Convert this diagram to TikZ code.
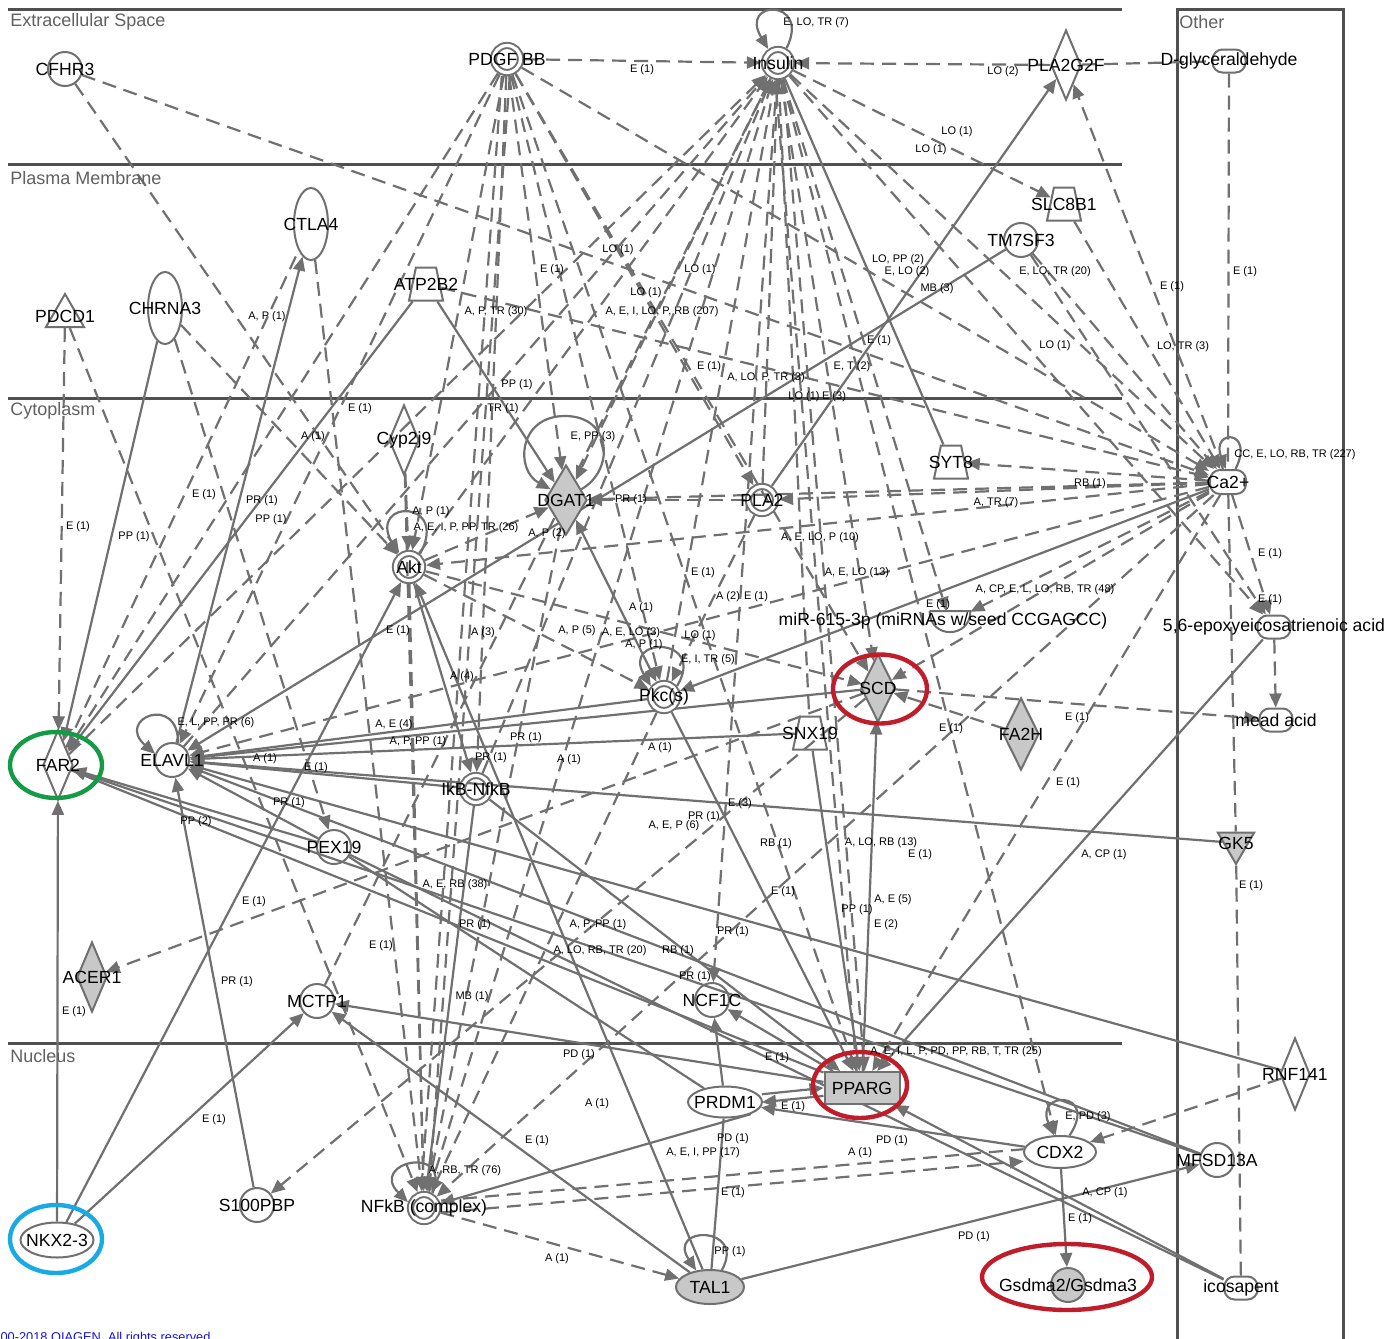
\documentclass[tikz,border=0pt]{standalone}
\usepackage{fontspec}
\setmainfont{Liberation Sans}
\usetikzlibrary{shapes.geometric,arrows.meta}
\definecolor{gcol}{RGB}{112,112,112}
\definecolor{lcol}{RGB}{80,80,80}
\definecolor{fillg}{RGB}{200,200,200}
\definecolor{hred}{RGB}{192,28,42}
\definecolor{hgreen}{RGB}{20,155,70}
\definecolor{hcyan}{RGB}{25,170,230}
\definecolor{cblue}{RGB}{20,20,220}
\pgfdeclarelayer{bg}
\pgfsetlayers{bg,main}
\begin{document}
\begin{tikzpicture}[x=0.5pt,y=-0.5pt,
  base/.style={draw=gcol, line width=1pt, inner sep=0pt, outer sep=0.5pt},
  circ/.style={base, circle, minimum size=17pt},
  dcirc/.style={base, circle, double=white, double distance=1.6pt, minimum size=13.5pt, outer sep=1.8pt},
  ell/.style={base, ellipse},
  dia/.style={base, diamond, minimum width=15pt, minimum height=35pt},
  fdia/.style={dia, fill=fillg},
  trap/.style={base, trapezium, trapezium left angle=72, trapezium right angle=72, trapezium stretches=true, minimum width=17pt, minimum height=16.5pt},
  chem/.style={base, rectangle, rounded corners=5pt, minimum width=16.5pt, minimum height=11.5pt},
  tri/.style={base, regular polygon, regular polygon sides=3, minimum size=22pt},
  nl/.style={font=\fontsize{8.8}{10}\selectfont, text=black, inner sep=0pt},
  el/.style={font=\fontsize{5.5}{6}\selectfont, text=black, inner sep=0pt},
  ll/.style={font=\fontsize{9}{10}\selectfont, text=lcol!90!white, inner sep=0pt, anchor=west},
  lay/.style={draw=lcol, line width=1.5pt},
  se/.style={draw=gcol, line width=1.1pt},
  de/.style={se, dash pattern=on 7pt off 4pt},
  ar/.style={-{Triangle[length=7pt,width=6pt]}},
  ba/.style={{Triangle[length=7pt,width=6pt]}-{Triangle[length=7pt,width=6pt]}},
  hl/.style={ellipse, line width=2.2pt, inner sep=0pt}
]
\path[use as bounding box] (0,0) rectangle (1399,1339);

% ---------- compartment labels
\node[ll] (lext) at (10,22) {Extracellular Space};
\node[ll] (lpm) at (10,178) {Plasma Membrane};
\node[ll] (lcyt) at (10,411) {Cytoplasm};
\node[ll] (lnuc) at (10,1056) {Nucleus};
\node[ll] (loth) at (1179,22) {Other};

% ---------- molecules
\node[circ, label={[nl]center:CFHR3}] (cfhr3) at (65,69) {};
\node[dcirc, label={[nl]center:PDGF BB}] (pdgf) at (507,59) {};
\node[dcirc, label={[nl]center:Insulin}] (ins) at (778,63) {};
\node[dia, label={[nl]center:PLA2G2F}] (pla2g2f) at (1066,65) {};
\node[chem, label={[nl]center:D-glyceraldehyde}] (dgly) at (1229,61) {};
\node[ell, minimum width=17pt, minimum height=36pt, label={[nl]center:CTLA4}] (ctla4) at (311,224) {};
\node[tri, label={[nl]center:PDCD1}] (pdcd1) at (65,316) {};
\node[ell, minimum width=17pt, minimum height=36pt, label={[nl]center:CHRNA3}] (chrna3) at (165,308) {};
\node[trap, label={[nl]center:ATP2B2}] (atp) at (426,284) {\phantom{x}};
\node[trap, label={[nl]center:SLC8B1}] (slc) at (1064,204) {\phantom{x}};
\node[circ, label={[nl]center:TM7SF3}] (tm7) at (1021,240) {};
\node[dia, label={[nl]center:Cyp2j9}] (cyp) at (404,440) {};
\node[fdia, minimum width=21pt, label={[nl]center:DGAT1}] (dgat) at (566,500) {};
\node[dcirc, label={[nl]center:Akt}] (akt) at (409,567) {};
\node[dcirc, label={[nl]center:PLA2}] (pla2) at (762,500) {};
\node[trap, label={[nl]center:SYT8}] (syt8) at (951,462) {\phantom{x}};
\node[chem, minimum width=18pt, minimum height=12pt, label={[nl]center:Ca2+}] (ca) at (1228,482) {};
\node[inner sep=0pt, minimum width=20pt, minimum height=10.5pt] (mir) at (950,622) {};
\draw[base] (mir.north west) -- (mir.north east) .. controls +(0,28) and +(0,28) .. (mir.north west);
\node[nl] (mirl) at (943,621) {miR-615-3p (miRNAs w/seed CCGAGCC)};
\node[chem, label={[nl]center:{5,6-epoxyeicosatrienoic acid}}] (epoxy) at (1274,627) {};
\node[chem, label={[nl]center:mead acid}] (mead) at (1276,720) {};
\node[fdia, minimum width=17pt, minimum height=34pt, label={[nl]center:SCD}] (scd) at (878,688) {};
\node[fdia, minimum width=18pt, minimum height=36pt, label={[nl]center:FA2H}] (fa2h) at (1021,734) {};
\node[dcirc, label={[nl]center:Pkc(s)}] (pkc) at (664,697) {};
\node[trap, label={[nl]center:SNX19}] (snx) at (810,733) {\phantom{x}};
\node[dia, label={[nl]center:FAR2}] (far2) at (58,765) {};
\node[circ, label={[nl]center:ELAVL1}] (elavl) at (172,760) {};
\node[dcirc, label={[nl]center:IkB-NfkB}] (ikb) at (476,789) {};
\node[circ, label={[nl]center:PEX19}] (pex) at (334,847) {};
\node[tri, fill=fillg, shape border rotate=180, minimum size=21pt, label={[nl]center:GK5}] (gk5) at (1236,843) {};
\node[fdia, label={[nl]center:ACER1}] (acer) at (92,977) {};
\node[circ, label={[nl]center:MCTP1}] (mctp) at (317,1001) {};
\node[circ, label={[nl]center:NCF1C}] (ncf) at (712,1000) {};
\node[dia, minimum height=36pt, label={[nl]center:RNF141}] (rnf) at (1295,1074) {};
\node[base, rectangle, fill=fillg, minimum width=37.5pt, minimum height=16pt, label={[nl]center:PPARG}] (pparg) at (862,1088) {};
\node[ell, minimum width=37pt, minimum height=15.5pt, label={[nl]center:PRDM1}] (prdm) at (725,1102) {};
\node[ell, minimum width=36pt, minimum height=16pt, label={[nl]center:CDX2}] (cdx) at (1060,1152) {};
\node[circ, label={[nl]center:MFSD13A}] (mfsd) at (1217,1160) {};
\node[circ, label={[nl]center:S100PBP}] (s100) at (257,1205) {};
\node[dcirc, label={[nl]center:NFkB (complex)}] (nfkb) at (424,1208) {};
\node[ell, minimum width=36.5pt, minimum height=17.5pt, label={[nl]center:NKX2-3}] (nkx) at (57,1240) {};
\node[ell, fill=fillg, minimum width=34pt, minimum height=17pt, label={[nl]center:TAL1}] (tal) at (710,1287) {};
\node[circ, fill=fillg, label={[nl]center:Gsdma2/Gsdma3}] (gsd) at (1068,1285) {};
\node[chem, label={[nl]center:icosapent}] (ico) at (1241,1288) {};

% ---------- highlight rings
\node[hl, draw=hgreen, minimum width=46pt, minimum height=33pt] (hfar2) at (56,765) {};
\node[hl, draw=hcyan, minimum width=46pt, minimum height=34pt] (hnkx) at (56,1239) {};
\node[hl, draw=hred, minimum width=47pt, minimum height=34.5pt] (hscd) at (880,689) {};
\node[hl, draw=hred, minimum width=47pt, minimum height=33pt] (hpparg) at (860,1085) {};
\node[hl, draw=hred, minimum width=85pt, minimum height=33pt] (hgsd) at (1067,1277) {};

% ---------- edge labels
\foreach \x/\y/\t [count=\i] in {
816/23/{E, LO, TR (7)}, 642/70/{E (1)}, 1003/72/{LO (2)}, 957/132/{LO (1)}, 931/150/{LO (1)},
618/250/{LO (1)}, 552/270/{E (1)}, 700/270/{LO (1)}, 646/293/{LO (1)}, 898/260/{LO, PP (2)},
907/272/{E, LO (2)}, 937/289/{MB (3)}, 1055/272/{E, LO, TR (20)}, 1172/287/{E (1)}, 1245/272/{E (1)},
267/317/{A, P (1)}, 496/312/{A, P, TR (30)}, 662/312/{A, E, I, LO, P, RB (207)}, 1055/346/{LO (1)},
1183/347/{LO, TR (3)}, 879/341/{E (1)}, 517/385/{PP (1)}, 709/367/{E (1)}, 766/378/{A, LO, P, TR (3)},
852/367/{E, T (2)}, 804/397/{LO (1)}, 834/397/{E (3)}, 360/409/{E (1)}, 503/409/{TR (1)},
313/437/{A (1)}, 593/437/{E, PP (3)}, 1295/455/{CC, E, LO, RB, TR (227)}, 1090/484/{RB (1)},
996/503/{A, TR (7)}, 204/495/{E (1)}, 262/501/{PR (1)}, 271/520/{PP (1)}, 78/527/{E (1)},
134/537/{PP (1)}, 431/512/{A, P (1)}, 466/528/{A, E, I, P, PP, TR (26)}, 547/534/{A, P (2)},
631/500/{PR (1)}, 820/538/{A, E, LO, P (10)}, 1270/554/{E (1)}, 703/573/{E (1)}, 857/573/{A, E, LO (13)},
728/597/{A (2)}, 756/597/{E (1)}, 1045/590/{A, CP, E, L, LO, RB, TR (48)}, 938/605/{E (1)},
1270/600/{E (1)}, 641/608/{A (1)}, 398/631/{E (1)}, 483/633/{A (3)}, 577/631/{A, P (5)},
631/633/{A, E, LO (3)}, 644/645/{A, P (1)}, 700/636/{LO (1)}, 708/660/{E, I, TR (5)}, 462/677/{A (4)},
216/723/{E, L, PP, PR (6)}, 394/725/{A, E (4)}, 418/742/{A, P, PP (1)}, 526/738/{PR (1)},
1077/718/{E (1)}, 951/729/{E (1)}, 265/759/{A (1)}, 316/768/{E (1)}, 569/760/{A (1)}, 660/748/{A (1)},
491/758/{PR (1)}, 1068/783/{E (1)}, 289/803/{PR (1)}, 740/804/{E (3)}, 196/822/{PP (2)},
704/817/{PR (1)}, 674/826/{A, E, P (6)}, 776/844/{RB (1)}, 881/843/{A, LO, RB (13)}, 920/855/{E (1)},
1104/855/{A, CP (1)}, 1251/886/{E (1)}, 455/885/{A, E, RB (38)}, 783/892/{E (1)}, 893/900/{A, E (5)},
857/910/{PP (1)}, 886/925/{E (2)}, 254/902/{E (1)}, 475/925/{PR (1)}, 598/925/{A, P, PP (1)},
733/932/{PR (1)}, 600/951/{A, LO, RB, TR (20)}, 678/951/{RB (1)}, 381/946/{E (1)}, 695/977/{PR (1)},
237/982/{PR (1)}, 74/1012/{E (1)}, 472/997/{MB (1)}, 579/1055/{PD (1)}, 777/1058/{E (1)},
956/1052/{A, E, I, L, P, PD, PP, RB, T, TR (25)}, 793/1107/{E (1)}, 597/1104/{A (1)},
1088/1117/{E, PD (3)}, 214/1120/{E (1)}, 537/1141/{E (1)}, 703/1153/{A, E, I, PP (17)},
733/1139/{PD (1)}, 892/1141/{PD (1)}, 860/1153/{A (1)}, 733/1193/{E (1)}, 1105/1193/{A, CP (1)},
1080/1219/{E (1)}, 465/1171/{A, RB, TR (76)}, 974/1237/{PD (1)}, 730/1252/{PP (1)}, 557/1259/{A (1)}}
{\node[el] (el\i) at (\x,\y) {\t};}

\node[anchor=base west, inner sep=0pt, text=cblue, font=\fontsize{6.4}{7}\selectfont] (copy) at (-27,1341) {\textcopyright{} 2000-2018 QIAGEN. All rights reserved.};

% ---------- background: frame and connectors
\begin{pgfonlayer}{bg}
\fill[white] (0,0) rectangle (1399,1339);
\draw[lay] (8,9) -- (1122,9);
\draw[lay] (8,164) -- (1122,164);
\draw[lay] (8,398) -- (1122,398);
\draw[lay] (8,1043) -- (1122,1043);
\draw[lay] (1177,1339) -- (1177,9) -- (1343,9) -- (1343,1339);

% top / extracellular
\draw[de,ar] (pdgf) -- (ins);
\draw[de,ar] (pla2g2f) -- (ins);
\draw[de] (pla2g2f) -- (dgly);
\draw[de,ar] (ins) -- (ca);
\draw[de,ar] (ins) -- (slc);
\draw[de,ar] (slc) -- (ca);
\draw[de,ar] (tm7) -- (ca);
\draw[de,ar] (tm7) -- (epoxy);
\draw[de,ar] (ca) -- (pla2g2f);
\draw[de] (dgly) -- (ca);
\draw[de,ar] (cfhr3) -- (ca);
\draw[de,ar] (cfhr3) -- (akt);
\draw[de,ar] (atp) -- (ca);
\draw[de,ar] (pdgf) -- (ca);
\draw[se] (ins) -- (syt8);
\draw[de,ar] (ca) -- (syt8);
\draw[de,ar] (ca) -- (pla2);
\draw[se,ar] (pla2) -- (pla2g2f);
\draw[se,ar] (tm7) -- (elavl);
% insulin fan
\draw[de,ar] (far2) -- (ins);
\draw[de,ar] (akt) -- (ins);
\draw[de,ar] (elavl) -- (ins);
\draw[de,ar] (ikb) -- (ins);
\draw[de,ar] (nfkb) -- (ins);
\draw[de,ar] (mctp) -- (ins);
\draw[de,ar] (ins) -- (dgat);
\draw[de,ar] (pla2) -- (ins);
\draw[de,ar] (pkc) -- (ins);
\draw[de,ar] (ins) -- (scd);
\draw[de,ar,transform canvas={xshift=-2pt}] (pparg) -- (ins);
\draw[de,ar,transform canvas={xshift=2pt}] (ins) -- (pparg);
\draw[de,ar] (ins) -- (cdx);
\draw[de,ar] (ins) -- (mir);
\draw[de,ar] (ins) -- (ncf);
\draw[de] (ins) -- (snx);
\draw[de,ar] (ins) -- (epoxy);
% PDGF BB fan
\draw[de,ar] (pdgf) -- (far2);
\draw[de,ar] (pdgf) -- (akt);
\draw[de,ar,transform canvas={xshift=-2pt}] (pdgf) -- (nfkb);
\draw[de,ar,transform canvas={xshift=2pt}] (pdgf) -- (nfkb);
\draw[de,ar] (pdgf) -- (dgat);
\draw[de,ar] (pdgf) -- (pkc);
\draw[de,ar] (pdgf) -- (scd);
\draw[de,ar] (pdgf) -- (pparg);
\draw[de,ar] (pdgf) -- (ikb);
\draw[de,ar] (pdgf) -- (elavl);
\draw[de,ar] (pdgf) -- (pla2);
% upper left
\draw[de,ar] (pdcd1) -- (far2);
\draw[de,ar] (pdcd1) -- (nfkb);
\draw[se,ar] (chrna3) -- (far2);
\draw[de,ar] (chrna3) -- (pex);
\draw[de,ar] (chrna3) -- (akt);
\draw[de,ar] (ctla4) -- (nfkb);
\draw[se,ar] (elavl) -- (ctla4);
\draw[de] (far2) -- (ctla4);
\draw[se,ar] (atp) -- (far2);
\draw[se,ar] (atp) -- (dgat);
\draw[de,ar] (cyp) -- (akt);
\draw[de,ar] (cyp) -- (nfkb);
% Akt
\draw[de,ar] (akt) -- (dgat);
\draw[de,ar] (akt) -- (pkc);
\draw[de,ar] (akt) -- (scd);
\draw[de,ar] (ca) -- (akt);
\draw[de,ar] (akt) -- (nfkb);
\draw[se,ar] (nkx) -- (akt);
\draw[se,ar] (akt) -- (ikb);
\draw[se,ar] (tal) -- (akt);
% DGAT1
\draw[se,ba] (pkc) -- (dgat);
\draw[de,ar] (ca) -- (dgat);
\draw[de,ar] (pla2) -- (dgat);
\draw[de,ar] (dgat) -- (nfkb);
% Pkc(s)
\draw[se,ar] (ca) -- (pkc);
\draw[se,ar] (pkc) -- (elavl);
\draw[se,ar] (pkc) -- (pparg);
\draw[de,ar] (pkc) -- (nfkb);
\draw[de,ar] (pla2) -- (pkc);
% SCD
\draw[se,ar] (pparg) -- (scd);
\draw[se,ar] (scd) -- (elavl);
\draw[de,ar] (ca) -- (scd);
\draw[de,ar] (scd) -- (mead);
\draw[de,ar] (scd) -- (acer);
\draw[de,ar] (scd) -- (s100);
\draw[de,ar] (ca) -- (mir);
\draw[de,ar] (fa2h) -- (scd);
% SNX19
\draw[se,ar] (snx) -- (elavl);
\draw[se,ar] (snx) -- (pparg);
% ELAVL1
\draw[se,ar] (s100) -- (elavl);
\draw[se,ar] (gk5) -- (elavl);
\draw[se,ar] (rnf) -- (elavl);
\draw[se,ar] (pex) -- (elavl);
\draw[se,ar] (mfsd) -- (elavl);
\draw[se,ar] (ikb) -- (elavl);
\draw[de,ar] (ca) -- (elavl);
% FAR2
\draw[se,ar] (nkx) -- (far2);
\draw[se,ar] (pex) -- (far2);
\draw[se,ar] (mfsd) -- (far2);
\draw[se] (far2) -- (pparg);
% PEX19
\draw[se] (pex) -- (prdm);
\draw[se] (pex) -- (ico);
% MCTP1
\draw[se,ar] (nkx) -- (mctp);
\draw[se,ar] (pparg) -- (mctp);
\draw[se,ar] (tal) -- (mctp);
% NCF1C
\draw[se,ar] (pparg) -- (ncf);
\draw[se,ar] (prdm) -- (ncf);
% PRDM1
\draw[se,ar,transform canvas={yshift=-2pt}] (pparg) -- (prdm);
\draw[se,ar,transform canvas={yshift=2pt}] (prdm) -- (pparg);
\draw[se,ar] (cdx) -- (prdm);
\draw[se] (tal) -- (prdm);
\draw[se,ar] (prdm.-25) -- (nfkb);
% CDX2
\draw[de,ar] (rnf) -- (cdx);
\draw[se,ar] (cdx) -- (gsd);
\draw[de,ar,transform canvas={yshift=-3pt}] (nfkb) -- (cdx);
\draw[de,transform canvas={yshift=3pt}] (nfkb) -- (cdx);
% PPARG
\draw[se,ar] (epoxy) -- (pparg);
\draw[se,ar] (ico) -- (pparg);
\draw[de,ar] (ca) -- (pparg);
\draw[se,ar] (ikb) -- (pparg);
% MFSD13A
\draw[se,ar] (tal) -- (mfsd);
% NFkB
\draw[se,ar] (ikb) -- (nfkb);
\draw[de,ar] (nfkb) -- (tal);
\draw[de,ar] (ca) -- (nfkb);
% Ca2+ others
\draw[de,ar] (ca) -- (epoxy);
\draw[de] (ca) -- (gk5);
\draw[de] (gk5) -- (ico);
\draw[de,ar] (epoxy) -- (mead);

% self loops
\draw[se,ar] (ins.60) .. controls +(25,-50) and +(-30,-50) .. (ins.125);
\draw[se,ar] (akt.50) .. controls +(30,-55) and +(-30,-55) .. (akt.130);
\draw[se,ar] (dgat.35) .. controls (615,470) and (612,416) .. (565,416) .. controls (518,416) and (515,470) .. (dgat.145);
\draw[se,ar] (pkc.40) .. controls +(30,-50) and +(-30,-50) .. (pkc.140);
\draw[se,ar] (elavl.70) .. controls +(0,-50) and +(-40,-35) .. (elavl.160);
\draw[se,ar] (nfkb.60) .. controls +(20,-50) and +(-40,-40) .. (nfkb.160);
\draw[se,ar] (cdx.60) .. controls +(30,-45) and +(-20,-45) .. (cdx.110);
\draw[se,ar] (tal.55) .. controls +(25,-45) and +(-30,-45) .. (tal.130);
\draw[se,ar] (ca.60) .. controls +(20,-40) and +(-15,-40) .. (ca.100);
\end{pgfonlayer}
\end{tikzpicture}
\end{document}
